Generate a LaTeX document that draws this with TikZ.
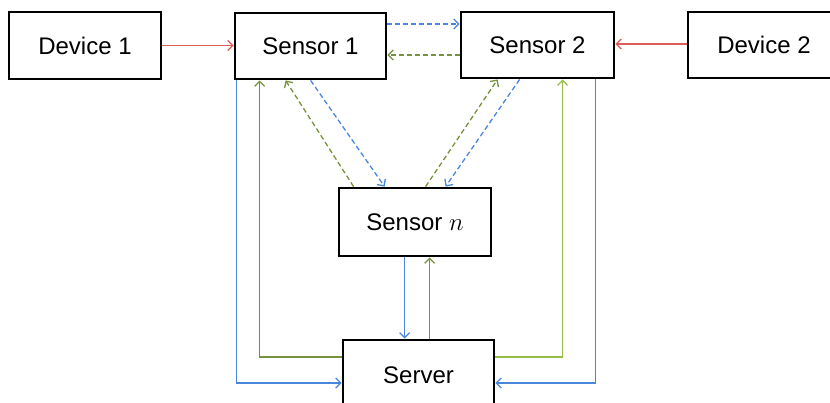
\documentclass[tikz,border=0pt]{standalone}
\usepackage{fontspec}
\setmainfont{Liberation Sans}
\usetikzlibrary{arrows.meta}
\definecolor{cred}{RGB}{222,92,88}
\definecolor{cblue}{RGB}{74,134,220}
\definecolor{cgreen}{RGB}{118,146,60}
\definecolor{clgreen}{RGB}{150,190,70}
\begin{document}
\begin{tikzpicture}[x=1pt,y=-1pt,
  box/.style={draw=black,line width=2.8pt,rectangle,inner sep=0pt,font=\fontsize{24}{28}\selectfont},
  tip/.style={-{Straight Barb[length=5pt,width=10pt,line width=1.3pt]}},
  conn/.style={line width=1.3pt,tip},
  rd/.style={conn,draw=cred},
  bl/.style={conn,draw=cblue},
  gr/.style={conn,draw=cgreen},
  lg/.style={conn,draw=clgreen},
  dsh/.style={dash pattern=on 5pt off 3pt}]
\useasboundingbox (0,0) rectangle (830,403);
\node[box,minimum width=152pt,minimum height=67pt] (d1) at (85,45.5) {Device 1};
\node[box,minimum width=151pt,minimum height=66pt] (s1) at (310.5,46) {Sensor 1};
\node[box,minimum width=153pt,minimum height=66pt] (s2) at (537.5,45) {Sensor 2};
\node[box,minimum width=152pt,minimum height=66pt] (d2) at (764,45) {Device 2};
\node[box,minimum width=152pt,minimum height=68pt] (sn) at (415,222) {Sensor $n$};
\node[box,minimum width=151pt,minimum height=70pt] (srv) at (418.5,375) {Server};
% red
\draw[rd] (d1.east) -- (d1.east -| s1.west);
\draw[rd] ([yshift=1pt]d2.west) -- ([yshift=1pt]d2.west -| s2.east);
% horizontal dashed
\draw[bl,dsh] ([yshift=22pt]s1.east) -- ([yshift=22pt]s1.east -| s2.west);
\draw[gr,dsh] ([yshift=-9pt]s1.east -| s2.west) -- ([yshift=-9pt]s1.east);
% diagonal dashed
\draw[bl,dsh] ([xshift=77pt]s1.south west) -- ([xshift=47pt]sn.north west);
\draw[gr,dsh] ([xshift=16pt]sn.north west) -- ([xshift=52pt]s1.south west);
\draw[gr,dsh] ([xshift=88pt]sn.north west) -- ([xshift=38pt]s2.south west);
\draw[bl,dsh] ([xshift=60pt]s2.south west) -- ([xshift=108pt]sn.north west);
% left loops
\draw[bl] ([xshift=3pt]s1.south west) |- ([yshift=-8pt]srv.west);
\draw[gr] ([yshift=18pt]srv.west) -| ([xshift=26pt]s1.south west);
% right loops
\draw[lg] ([yshift=18pt]srv.east) -| ([xshift=103pt]s2.south west);
\draw[bl] ([xshift=136pt]s2.south west) |- ([yshift=-8pt]srv.east);
% center
\coordinate (b1) at ([xshift=67pt]sn.south west);
\coordinate (g1) at ([xshift=92pt]sn.south west);
\draw[bl] (b1) -- (b1 |- srv.north);
\draw[gr] (g1 |- srv.north) -- (g1);
\end{tikzpicture}
\end{document}
